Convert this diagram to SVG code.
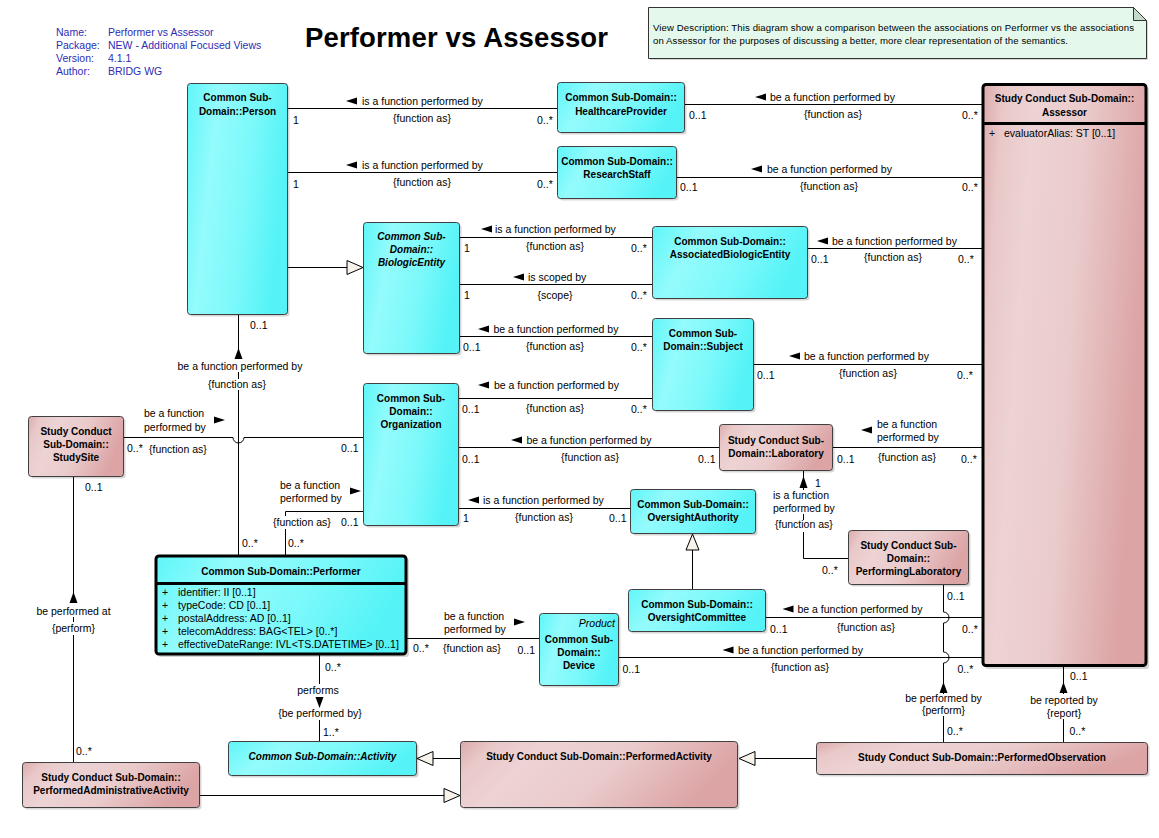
<svg xmlns="http://www.w3.org/2000/svg" width="1159" height="838" viewBox="0 0 1159 838">
<defs>
<linearGradient id="gc" x1="0" y1="0" x2="1" y2="0.25">
<stop offset="0" stop-color="#5ff6f9"/>
<stop offset="0.3" stop-color="#94fbfc"/>
<stop offset="0.65" stop-color="#7cf9fb"/>
<stop offset="1" stop-color="#55f3f7"/>
</linearGradient>
<linearGradient id="gp" x1="0" y1="0" x2="1" y2="0.25">
<stop offset="0" stop-color="#dcaaab"/>
<stop offset="0.12" stop-color="#e9c8c9"/>
<stop offset="0.3" stop-color="#edd3d4"/>
<stop offset="0.6" stop-color="#eacbcc"/>
<stop offset="1" stop-color="#dca4a5"/>
</linearGradient>
</defs>
<style>
text{font-family:"Liberation Sans",Arial,sans-serif;fill:#000}
.t{font-size:10.5px}
.m{text-anchor:middle}
.b{font-size:10px;font-weight:bold;text-anchor:middle}
.bi{font-size:10px;font-weight:bold;font-style:italic;text-anchor:middle}
.h{font-size:10.5px;fill:#2d2db4}
.c{fill:url(#gc);stroke:#404040;stroke-width:1}
.p{fill:url(#gp);stroke:#404040;stroke-width:1}
.sh{fill:#000;opacity:.16}
.ln{fill:none;stroke:#000;stroke-width:1}
.ah{fill:#000}
.gen{fill:#f7f2ea;stroke:#000;stroke-width:1}
.thick{stroke:#000;stroke-width:3}
</style>
<rect width="1159" height="838" fill="#fff"/>

<g id="header">
<text class="h" x="56" y="36">Name:</text><text class="h" x="108" y="36">Performer vs Assessor</text>
<text class="h" x="56" y="49">Package:</text><text class="h" x="108" y="49">NEW - Additional Focused Views</text>
<text class="h" x="56" y="61.5">Version:</text><text class="h" x="108" y="61.5">4.1.1</text>
<text class="h" x="56" y="74.5">Author:</text><text class="h" x="108" y="74.5">BRIDG WG</text>
<text x="305" y="47" style="font-size:27.5px;font-weight:bold" textLength="303">Performer vs Assessor</text>
</g>

<g id="note">
<path d="M650 9H1135L1148 22V60H650Z" class="sh"/>
<path d="M648.5 7.5H1133.5L1146.5 20.5V58.5H648.5Z" fill="#e4f9eb" stroke="#333"/>
<path d="M1133.5 7.5V20.5H1146.5Z" fill="#c4dacb" stroke="#333"/>
<text x="653" y="30.5" style="font-size:9.6px" textLength="481">View Description:  This diagram show a comparison between the associations on Performer vs the associations</text>
<text x="653" y="43.5" style="font-size:9.6px" textLength="415">on Assessor for the purposes of discussing a better, more clear representation of the semantics.</text>
</g>

<g id="connectors">
<path class="ln" d="M288 108.5H557"/>
<polygon class="ah" points="346,101 357,97.5 357,104.5"/>
<text class="t" x="362" y="104.5">is a function performed by</text>
<text class="t m" x="422" y="121.5">{function as}</text>
<text class="t" x="293" y="124">1</text>
<text class="t" x="537" y="124">0..*</text>

<path class="ln" d="M288 172.5H557"/>
<polygon class="ah" points="346,165 357,161.5 357,168.5"/>
<text class="t" x="362" y="168.5">is a function performed by</text>
<text class="t m" x="422" y="185.5">{function as}</text>
<text class="t" x="293" y="188">1</text>
<text class="t" x="537" y="188">0..*</text>

<path class="ln" d="M685 104.5H982"/>
<polygon class="ah" points="755,97 766,93.5 766,100.5"/>
<text class="t" x="770" y="100.5">be a function performed by</text>
<text class="t m" x="833" y="117.5">{function as}</text>
<text class="t" x="689" y="119">0..1</text>
<text class="t" x="962" y="119">0..*</text>

<path class="ln" d="M677 177.5H982"/>
<polygon class="ah" points="751,169 762,165.5 762,172.5"/>
<text class="t" x="767" y="172.5">be a function performed by</text>
<text class="t m" x="829" y="190">{function as}</text>
<text class="t" x="680" y="191">0..1</text>
<text class="t" x="962" y="191">0..*</text>

<path class="ln" d="M288 267.5H347"/>
<polygon class="gen" points="363,267.5 347,260.5 347,274.5"/>

<path class="ln" d="M459 237.5H652"/>
<polygon class="ah" points="481,229 492,225.5 492,232.5"/>
<text class="t" x="495" y="232.5">is a function performed by</text>
<text class="t m" x="555" y="249.5">{function as}</text>
<text class="t" x="464" y="251.5">1</text>
<text class="t" x="631" y="251.5">0..*</text>

<path class="ln" d="M459 284.5H652"/>
<polygon class="ah" points="513,277 524,273.5 524,280.5"/>
<text class="t" x="528" y="281">is scoped by</text>
<text class="t m" x="555" y="298.5">{scope}</text>
<text class="t" x="464" y="299">1</text>
<text class="t" x="631" y="299">0..*</text>

<path class="ln" d="M807 248.5H982"/>
<polygon class="ah" points="817,241 828,237.5 828,244.5"/>
<text class="t" x="832" y="244.5">be a function performed by</text>
<text class="t m" x="893" y="261">{function as}</text>
<text class="t" x="811" y="262.5">0..1</text>
<text class="t" x="958" y="262.5">0..*</text>

<path class="ln" d="M459 336.5H652"/>
<polygon class="ah" points="478,329 489,325.5 489,332.5"/>
<text class="t" x="493.5" y="332.5">be a function performed by</text>
<text class="t m" x="555" y="349.5">{function as}</text>
<text class="t" x="463" y="351">0..1</text>
<text class="t" x="631" y="351">0..*</text>

<path class="ln" d="M753 364.5H982"/>
<polygon class="ah" points="789,356 800,352.5 800,359.5"/>
<text class="t" x="804" y="359.5">be a function performed by</text>
<text class="t m" x="868" y="376.5">{function as}</text>
<text class="t" x="757" y="379">0..1</text>
<text class="t" x="957" y="379">0..*</text>

<path class="ln" d="M458 398.5H652"/>
<polygon class="ah" points="478,385 489,381.5 489,388.5"/>
<text class="t" x="494" y="388.5">be a function performed by</text>
<text class="t m" x="555" y="411.5">{function as}</text>
<text class="t" x="462" y="412.5">0..1</text>
<text class="t" x="631" y="412.5">0..*</text>

<path class="ln" d="M458 447.5H719"/>
<polygon class="ah" points="511,440 522,436.5 522,443.5"/>
<text class="t" x="526.5" y="443.5">be a function performed by</text>
<text class="t m" x="590" y="460.5">{function as}</text>
<text class="t" x="462" y="462.5">0..1</text>
<text class="t" x="698" y="462.5">0..1</text>

<path class="ln" d="M832 447.5H982"/>
<polygon class="ah" points="861,430 872,426.5 872,433.5"/>
<text class="t" x="877" y="427.5">be a function</text>
<text class="t" x="877" y="440.5">performed by</text>
<text class="t m" x="907" y="460.5">{function as}</text>
<text class="t" x="837" y="462.5">0..1</text>
<text class="t" x="961" y="462.5">0..*</text>

<path class="ln" d="M458 508.5H630"/>
<polygon class="ah" points="468,500 479,496.5 479,503.5"/>
<text class="t" x="483" y="503.5">is a function performed by</text>
<text class="t m" x="544" y="520.5">{function as}</text>
<text class="t" x="463" y="522">1</text>
<text class="t" x="609" y="522">0..1</text>

<path class="ln" d="M692.5 589V550"/>
<polygon class="gen" points="692.5,534 686,550 699,550"/>

<path class="ln" d="M803.5 471V490M803.5 514V520M803.5 532V558.5H848"/>
<polygon class="ah" points="803.5,476 799.5,488 807.5,488"/>
<text class="t" x="815" y="486.5">1</text>
<text class="t" x="773" y="498.5">is a function</text>
<text class="t" x="773" y="511.5">performed by</text>
<text class="t" x="775" y="528">{function as}</text>
<text class="t" x="822" y="574">0..*</text>

<path class="ln" d="M238.5 314V358M238.5 372V379M238.5 390V555"/>
<polygon class="ah" points="238.5,348 234.5,359 242.5,359"/>
<text class="t" x="250" y="329">0..1</text>
<text class="t m" x="240" y="369.5">be a function performed by</text>
<text class="t m" x="237" y="387.5">{function as}</text>
<text class="t" x="242" y="546.5">0..*</text>

<path class="ln" d="M123 437.5H233A5.5 5.5 0 0 0 244 437.5H363"/>
<polygon class="ah" points="225,420 214,416.5 214,423.5"/>
<text class="t" x="144" y="416.5">be a function</text>
<text class="t" x="144" y="430.5">performed by</text>
<text class="t" x="127" y="451.5">0..*</text>
<text class="t" x="149" y="452.5">{function as}</text>
<text class="t" x="341" y="451.5">0..1</text>

<path class="ln" d="M285.5 555V529M285.5 516V511.5H363"/>
<polygon class="ah" points="361,491 350,487.5 350,494.5"/>
<text class="t" x="280" y="488.5">be a function</text>
<text class="t" x="280" y="501.5">performed by</text>
<text class="t" x="273" y="525.5">{function as}</text>
<text class="t" x="341" y="525.5">0..1</text>
<text class="t" x="288" y="546.5">0..*</text>

<path class="ln" d="M73.5 476V603M73.5 617V622M73.5 635V762"/>
<polygon class="ah" points="73.5,592 69.5,603 77.5,603"/>
<text class="t m" x="73.5" y="614.5">be performed at</text>
<text class="t m" x="73.5" y="631.5">{perform}</text>
<text class="t" x="85" y="491">0..1</text>
<text class="t" x="76" y="755">0..*</text>

<path class="ln" d="M319.5 655V684M319.5 720V741"/>
<polygon class="ah" points="319.5,708 315.5,697 323.5,697"/>
<text class="t m" x="318" y="693.5">performs</text>
<text class="t m" x="320" y="716.5">{be performed by}</text>
<text class="t" x="325" y="671">0..*</text>
<text class="t" x="323" y="735.5">1..*</text>

<path class="ln" d="M407 638.5H539"/>
<polygon class="ah" points="525,622 514,618.5 514,625.5"/>
<text class="t" x="444" y="619.5">be a function</text>
<text class="t" x="444" y="632.5">performed by</text>
<text class="t" x="443" y="651.5">{function as}</text>
<text class="t" x="413" y="651.5">0..*</text>
<text class="t" x="517.5" y="653.5">0..1</text>

<path class="ln" d="M766 617.5H982"/>
<polygon class="ah" points="782.5,609 793.5,605.5 793.5,612.5"/>
<text class="t" x="797.5" y="612.5">be a function performed by</text>
<text class="t m" x="866" y="630.5">{function as}</text>
<text class="t" x="770" y="632.5">0..1</text>
<text class="t" x="962" y="632.5">0..*</text>

<path class="ln" d="M619 657.5H982"/>
<polygon class="ah" points="722.5,650 733.5,646.5 733.5,653.5"/>
<text class="t" x="738" y="653.5">be a function performed by</text>
<text class="t m" x="800" y="670.5">{function as}</text>
<text class="t" x="622.5" y="672.5">0..1</text>
<text class="t" x="957.5" y="672.5">0..*</text>

<path class="ln" d="M943.5 585V612A5.5 5.5 0 0 1 943.5 623V652A5.5 5.5 0 0 1 943.5 663V694M943.5 716V742"/>
<polygon class="ah" points="943.5,682 939.5,693 947.5,693"/>
<text class="t m" x="943.5" y="701.5">be performed by</text>
<text class="t m" x="943.5" y="713.5">{perform}</text>
<text class="t" x="947" y="600">0..1</text>
<text class="t" x="947" y="734.5">0..*</text>

<path class="ln" d="M1063.5 666V694M1063.5 719V742"/>
<polygon class="ah" points="1063.5,682 1059.5,693 1067.5,693"/>
<text class="t m" x="1064" y="703.5">be reported by</text>
<text class="t m" x="1064" y="716.5">{report}</text>
<text class="t" x="1070" y="680">0..1</text>
<text class="t" x="1069.5" y="735">0..*</text>

<path class="ln" d="M460 758.5H433"/>
<polygon class="gen" points="417,758.5 433,751.5 433,765.5"/>
<path class="ln" d="M816 758.5H755"/>
<polygon class="gen" points="739,758.5 755,751.5 755,765.5"/>
<path class="ln" d="M200 795.5H444"/>
<polygon class="gen" points="460,795.5 444,788.5 444,802.5"/>
</g>

<g id="person">
<rect class="sh" x="189.5" y="85.5" width="100" height="231" rx="3"/>
<rect class="c" x="187.5" y="83.5" width="100" height="231" rx="3"/>
<text class="b" x="237.5" y="101">Common Sub-</text>
<text class="b" x="237.5" y="114.5">Domain::Person</text>
</g>
<g id="healthcareProvider">
<rect class="sh" x="559.5" y="84.5" width="127" height="50" rx="3"/>
<rect class="c" x="557.5" y="82.5" width="127" height="50" rx="3"/>
<text class="b" x="621" y="100.5">Common Sub-Domain::</text>
<text class="b" x="621" y="114.5">HealthcareProvider</text>
</g>
<g id="researchStaff">
<rect class="sh" x="559.5" y="148.5" width="119" height="52" rx="3"/>
<rect class="c" x="557.5" y="146.5" width="119" height="52" rx="3"/>
<text class="b" x="617" y="164.5">Common Sub-Domain::</text>
<text class="b" x="617" y="177.5">ResearchStaff</text>
</g>
<g id="assessor">
<rect class="sh" x="985" y="87" width="164" height="582" rx="3"/>
<rect class="p thick" x="983" y="84.5" width="163" height="581" rx="3"/>
<line x1="983" y1="123.5" x2="1146" y2="123.5" class="thick"/>
<text class="b" x="1064.5" y="101.5">Study Conduct Sub-Domain::</text>
<text class="b" x="1064.5" y="115.5">Assessor</text>
<text class="t" x="989" y="137">+</text>
<text class="t" x="1004" y="137">evaluatorAlias: ST [0..1]</text>
</g>
<g id="biologicEntity">
<rect class="sh" x="365.5" y="224.5" width="96" height="131" rx="3"/>
<rect class="c" x="363.5" y="222.5" width="96" height="131" rx="3"/>
<text class="bi" x="411.5" y="239.5">Common Sub-</text>
<text class="bi" x="411.5" y="252.5">Domain::</text>
<text class="bi" x="411.5" y="265.5">BiologicEntity</text>
</g>
<g id="associatedBiologicEntity">
<rect class="sh" x="654.5" y="228.5" width="155" height="72" rx="3"/>
<rect class="c" x="652.5" y="226.5" width="155" height="72" rx="3"/>
<text class="b" x="730" y="244.5">Common Sub-Domain::</text>
<text class="b" x="730" y="257.5">AssociatedBiologicEntity</text>
</g>
<g id="subject">
<rect class="sh" x="654.5" y="320.5" width="101" height="92" rx="3"/>
<rect class="c" x="652.5" y="318.5" width="101" height="92" rx="3"/>
<text class="b" x="703" y="337">Common Sub-</text>
<text class="b" x="703" y="350">Domain::Subject</text>
</g>
<g id="organization">
<rect class="sh" x="365.5" y="385.5" width="95" height="142" rx="3"/>
<rect class="c" x="363.5" y="383.5" width="95" height="142" rx="3"/>
<text class="b" x="411" y="402">Common Sub-</text>
<text class="b" x="411" y="415">Domain::</text>
<text class="b" x="411" y="428">Organization</text>
</g>
<g id="studySite">
<rect class="sh" x="30.5" y="418.5" width="95" height="60" rx="3"/>
<rect class="p" x="28.5" y="416.5" width="95" height="60" rx="3"/>
<text class="b" x="76" y="434.5">Study Conduct</text>
<text class="b" x="76" y="447.5">Sub-Domain::</text>
<text class="b" x="76" y="460.5">StudySite</text>
</g>
<g id="laboratory">
<rect class="sh" x="721.5" y="426.5" width="113" height="46" rx="3"/>
<rect class="p" x="719.5" y="424.5" width="113" height="46" rx="3"/>
<text class="b" x="776" y="443.5">Study Conduct Sub-</text>
<text class="b" x="776" y="456.5">Domain::Laboratory</text>
</g>
<g id="oversightAuthority">
<rect class="sh" x="632.5" y="491.5" width="125" height="44" rx="3"/>
<rect class="c" x="630.5" y="489.5" width="125" height="44" rx="3"/>
<text class="b" x="693" y="507.5">Common Sub-Domain::</text>
<text class="b" x="693" y="520.5">OversightAuthority</text>
</g>
<g id="performingLaboratory">
<rect class="sh" x="850.5" y="532.5" width="120" height="54" rx="3"/>
<rect class="p" x="848.5" y="530.5" width="120" height="54" rx="3"/>
<text class="b" x="908.5" y="548.5">Study Conduct Sub-</text>
<text class="b" x="908.5" y="561.5">Domain::</text>
<text class="b" x="908.5" y="574.5">PerformingLaboratory</text>
</g>
<g id="performer">
<rect class="sh" x="158" y="558" width="251" height="99" rx="3"/>
<rect class="c thick" x="156" y="556" width="250" height="98" rx="3"/>
<line x1="156" y1="583.5" x2="406" y2="583.5" class="thick"/>
<text class="b" x="281" y="574.5">Common Sub-Domain::Performer</text>
<text class="t" x="162" y="596">+</text><text class="t" x="178" y="596">identifier: II [0..1]</text>
<text class="t" x="162" y="609">+</text><text class="t" x="178" y="609">typeCode: CD [0..1]</text>
<text class="t" x="162" y="622">+</text><text class="t" x="178" y="622">postalAddress: AD [0..1]</text>
<text class="t" x="162" y="635">+</text><text class="t" x="178" y="635">telecomAddress: BAG&lt;TEL&gt; [0..*]</text>
<text class="t" x="162" y="648">+</text><text class="t" x="178" y="648">effectiveDateRange: IVL&lt;TS.DATETIME&gt; [0..1]</text>
</g>
<g id="oversightCommittee">
<rect class="sh" x="630.5" y="591.5" width="137" height="42" rx="3"/>
<rect class="c" x="628.5" y="589.5" width="137" height="42" rx="3"/>
<text class="b" x="697" y="607.5">Common Sub-Domain::</text>
<text class="b" x="697" y="621">OversightCommittee</text>
</g>
<g id="device">
<rect class="sh" x="541.5" y="615.5" width="79" height="72" rx="3"/>
<rect class="c" x="539.5" y="613.5" width="79" height="72" rx="3"/>
<text class="t" x="615" y="626.5" style="font-style:italic;text-anchor:end">Product</text>
<text class="b" x="579" y="642.5">Common Sub-</text>
<text class="b" x="579" y="655.5">Domain::</text>
<text class="b" x="579" y="668.5">Device</text>
</g>
<g id="activity">
<rect class="sh" x="230.5" y="743.5" width="188" height="34" rx="3"/>
<rect class="c" x="228.5" y="741.5" width="188" height="34" rx="3"/>
<text class="bi" x="322.5" y="759.5">Common Sub-Domain::Activity</text>
</g>
<g id="performedActivity">
<rect class="sh" x="462.5" y="743.5" width="277" height="66" rx="3"/>
<rect class="p" x="460.5" y="741.5" width="277" height="66" rx="3"/>
<text class="b" x="599" y="760">Study Conduct Sub-Domain::PerformedActivity</text>
</g>
<g id="performedObservation">
<rect class="sh" x="818.5" y="744.5" width="331" height="32" rx="3"/>
<rect class="p" x="816.5" y="742.5" width="331" height="32" rx="3"/>
<text class="b" x="982" y="760.5">Study Conduct Sub-Domain::PerformedObservation</text>
</g>
<g id="performedAdministrativeActivity">
<rect class="sh" x="24.5" y="764.5" width="177" height="45" rx="3"/>
<rect class="p" x="22.5" y="762.5" width="177" height="45" rx="3"/>
<text class="b" x="111" y="780.5">Study Conduct Sub-Domain::</text>
<text class="b" x="111" y="793.5">PerformedAdministrativeActivity</text>
</g>
</svg>
